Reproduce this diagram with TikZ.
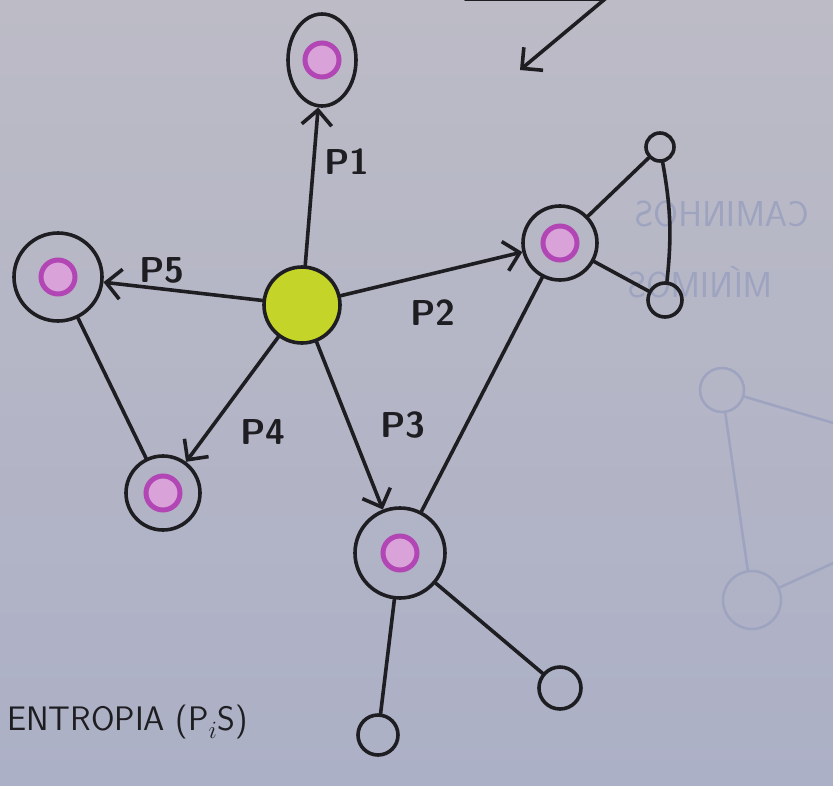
\documentclass[tikz,border=0pt]{standalone}
\usetikzlibrary{arrows.meta, shapes.geometric}
\definecolor{board}{RGB}{188,187,198}
\definecolor{boardlow}{RGB}{172,176,198}
\definecolor{hubgreen}{RGB}{196,212,40}
\definecolor{ink}{RGB}{30,30,34}
\definecolor{mag}{RGB}{178,70,180}
\definecolor{ghostc}{RGB}{158,164,192}

\begin{document}
\begin{tikzpicture}[x=1pt, y=-1pt, line width=3.6pt, line cap=round, draw=ink,
    >={Straight Barb[length=15pt,width=30pt]},
    pnode/.style={circle, draw, minimum size=#1,
      path picture={\draw[mag, line width=5pt, fill=mag!50!white]
        (path picture bounding box.center) circle (17pt);}},
    pnode/.default=76pt,
    leaf/.style={circle, draw, minimum size=#1, inner sep=0pt},
    lab/.style={font=\fontsize{36}{36}\sffamily\bfseries, text=ink},
    ghost/.style={draw=ghostc, line width=2.5pt}]
    \shade[top color=board, bottom color=boardlow] (0,0) rectangle (833,785);
    \useasboundingbox (0,0) rectangle (833,785);

    % faint lines showing through the sheet
    \node[ghost, circle, minimum size=44pt] (g1) at (722,390) {};
    \node[ghost, circle, minimum size=58pt] (g2) at (752,600) {};
    \coordinate (g3) at (840,425);
    \coordinate (g4) at (840,560);
    \draw[ghost] (g1) -- (g2);
    \draw[ghost] (g1) -- (g3);
    \draw[ghost] (g2) -- (g4);
    \node[xscale=-1, text=ghostc, font=\fontsize{36}{36}\sffamily] (gt1) at (722,214) {CAMINHOS};
    \node[xscale=-1, text=ghostc, font=\fontsize{36}{36}\sffamily] (gt2) at (700,282) {MÍNIMOS};

    \node[circle, draw, fill=hubgreen, minimum size=76pt] (z) at (302,305) {};
    \node[pnode, ellipse, minimum width=68pt, minimum height=92pt] (p1) at (322,60) {};
    \node[pnode=74pt] (p2) at (560,243) {};
    \node[pnode=90pt] (p3) at (400,553) {};
    \node[pnode=74pt] (p4) at (163,493) {};
    \node[pnode=88pt] (p5) at (58,277) {};

    \node[leaf=28pt] (l1) at (660,147) {};
    \node[leaf=34pt] (l2) at (665,300) {};
    \node[leaf=40pt] (l3) at (378,735) {};
    \node[leaf=42pt] (l4) at (560,688) {};

    \draw[->] (z) -- (p1);
    \draw[->] (z) -- (p2);
    \draw[->] (z) -- (p3);
    \draw[->] (z) -- (p4);
    \draw[->] (z) -- (p5);
    \draw (p5) -- (p4);
    \draw (p2) -- (p3);
    \draw (p2) -- (l1);
    \draw (l1) to[bend left=8] (l2);
    \draw (p2) -- (l2);
    \draw (p3) -- (l3);
    \draw (p3) -- (l4);

    \node[lab] (t1) at (347,162) {P1};
    \node[lab] (t2) at (433,313) {P2};
    \node[lab] (t3) at (403,425) {P3};
    \node[lab] (t4) at (263,432) {P4};
    \node[lab] (t5) at (162,270) {P5};

    \coordinate (a0) at (465,-1);
    \coordinate (a1) at (605,-1);
    \coordinate (a2) at (520,70);
    \draw[->] (a0) -- (a1) -- (a2);

    \node[anchor=west, font=\fontsize{34}{34}\sffamily, text=ink] (ent) at (2,722) {ENTROPIA (P$_i$S)};
\end{tikzpicture}
\end{document}
